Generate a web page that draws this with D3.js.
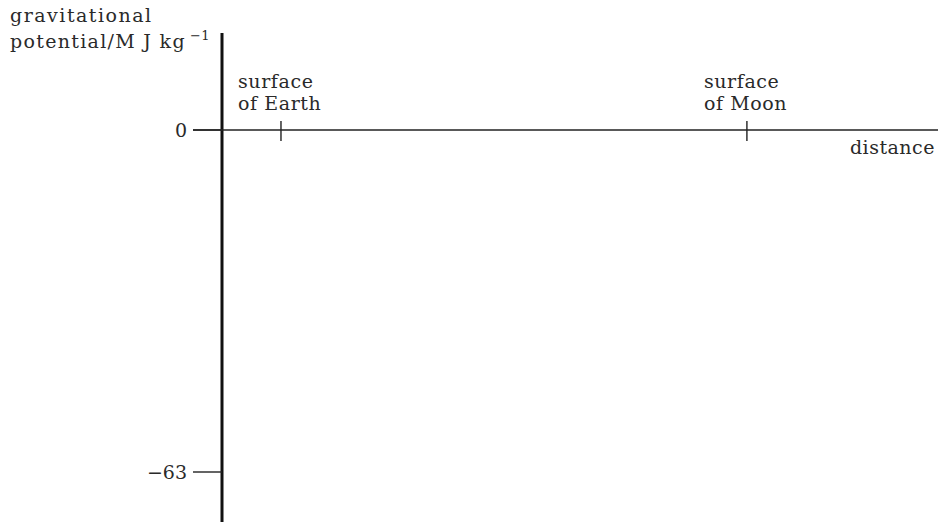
<!DOCTYPE html>
<html><head><meta charset="utf-8">
<script src="https://cdn.jsdelivr.net/npm/d3@7"></script>
<style>
html,body{margin:0;padding:0;background:#fff;}
text{font-family:"DejaVu Serif","Liberation Serif",serif;fill:#2a2a2a;}
</style>
</head><body>
<svg id="c" width="938" height="525"></svg>
<script>
// data
const yTickValues = [0, -63];
const yTickLabels = ["0", "\u221263"];
const markerNames = [["surface", "of Earth"], ["surface", "of Moon"]];
const markerDistances = [1, 8.9]; // arbitrary distance units
const xDomain = [0, 12.14];
const yDomain = [-63, 0];
const yAxisTitle = ["gravitational", "potential/M J kg"];
const xAxisTitle = "distance";

const FS = 19;
const svg = d3.select("#c");
const x = d3.scaleLinear().domain(xDomain).range([222, 938]);
const y = d3.scaleLinear().domain(yDomain).range([472, 130]);

// vertical axis
svg.append("line").attr("x1", x(0)).attr("x2", x(0)).attr("y1", 33).attr("y2", 522)
  .attr("stroke", "#111").attr("stroke-width", 3);

// horizontal axis at zero
svg.append("line").attr("x1", 193).attr("x2", 938).attr("y1", y(0)).attr("y2", y(0))
  .attr("stroke", "#222").attr("stroke-width", 1.4);

// y ticks
const yt = svg.append("g").selectAll("g").data(yTickValues).join("g");
yt.append("line").attr("x1", 193).attr("x2", x(0)).attr("y1", d => y(d)).attr("y2", d => y(d))
  .attr("stroke", "#222").attr("stroke-width", 1.4);
yt.append("text").attr("x", 187).attr("y", d => y(d) + 7).attr("text-anchor", "end")
  .attr("font-size", FS).text((d, i) => yTickLabels[i]);

// markers
const mk = svg.append("g").selectAll("g").data(markerDistances).join("g");
mk.append("line").attr("x1", d => x(d)).attr("x2", d => x(d)).attr("y1", y(0) - 9).attr("y2", y(0) + 11)
  .attr("stroke", "#222").attr("stroke-width", 1.4);
mk.append("text").attr("x", d => x(d) - 43).attr("y", 88).attr("font-size", FS).attr("letter-spacing", 0.6)
  .text((d, i) => markerNames[i][0]);
mk.append("text").attr("x", d => x(d) - 43).attr("y", 110).attr("font-size", FS).attr("letter-spacing", 0.6)
  .text((d, i) => markerNames[i][1]);

// axis titles
svg.append("text").attr("x", 10).attr("y", 22).attr("font-size", FS).attr("letter-spacing", 1.5).text(yAxisTitle[0]);
const t2 = svg.append("text").attr("x", 10).attr("y", 48).attr("font-size", FS).attr("letter-spacing", 1.3);
t2.append("tspan").text(yAxisTitle[1]);
t2.append("tspan").attr("dx", 4).attr("dy", -8).attr("font-size", 13).attr("letter-spacing", 0.5).text("\u22121");

svg.append("text").attr("x", 935).attr("y", 154).attr("text-anchor", "end").attr("font-size", FS).attr("letter-spacing", 0.5).text(xAxisTitle);
</script>
</body></html>
